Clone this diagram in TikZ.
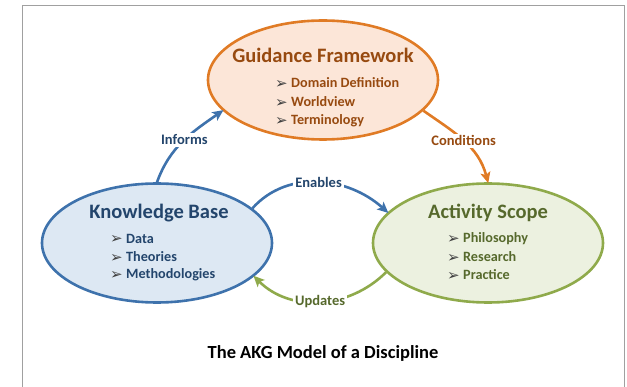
\documentclass[tikz,border=0pt]{standalone}
\usepackage{fontspec}
\setmainfont{Carlito}
\newfontfamily\dejavu{DejaVu Sans}
\usetikzlibrary{shapes.geometric,arrows.meta}
\definecolor{gfdraw}{HTML}{E07B25}
\definecolor{gffill}{HTML}{FCE6D8}
\definecolor{gftext}{HTML}{974A10}
\definecolor{kbdraw}{HTML}{3E72AC}
\definecolor{kbfill}{HTML}{DDE8F3}
\definecolor{kbtext}{HTML}{23456C}
\definecolor{asdraw}{HTML}{8FAA4B}
\definecolor{asfill}{HTML}{ECF1E0}
\definecolor{astext}{HTML}{56692C}
\definecolor{framegray}{HTML}{A0A0A0}
\newcommand{\bul}{\makebox[16pt][l]{\color{black!75}\dejavu\fontsize{15}{15}\selectfont\raisebox{-0.5pt}{➢}}}
\tikzset{
  blob/.style={ellipse, line width=2.6pt, minimum width=230pt, minimum height=119pt, inner sep=0pt},
  ttl/.style={font=\fontsize{20.5}{22}\selectfont\bfseries, inner sep=0pt},
  itm/.style={font=\fontsize{14.2}{15}\selectfont\bfseries, anchor=west, inner sep=0pt},
  lbl/.style={font=\fontsize{14.5}{15}\selectfont\bfseries, fill=white, inner sep=2pt},
  conn/.style={line width=2.6pt, -{Stealth[length=11pt,width=10pt,inset=2.5pt]}, shorten >=-1pt},
}
\begin{document}
\begin{tikzpicture}[x=1pt,y=1pt]
\useasboundingbox (0,0) rectangle (627,386);
\draw[framegray, line width=1pt] (22,-5) -- (22,380) -- (624,380) -- (624,-5);
% ellipses
\node[blob, draw=gfdraw, fill=gffill] (gf) at (323,306) {};
\node[blob, draw=kbdraw, fill=kbfill] (kb) at (157,143) {};
\node[blob, draw=asdraw, fill=asfill] (as) at (488,143) {};
% titles
\node[ttl, text=gftext] (gft) at (323,331) {Guidance Framework};
\node[ttl, text=kbtext] (kbt) at (159,173) {Knowledge Base};
\node[ttl, text=astext] (ast) at (488,173) {Activity Scope};
% items
\node[itm, text=gftext] (gf1) at (275,303) {\bul Domain Definition};
\node[itm, text=gftext] (gf2) at (275,284) {\bul Worldview};
\node[itm, text=gftext] (gf3) at (275,265) {\bul Terminology};
\node[itm, text=kbtext] (kb1) at (110,147) {\bul Data};
\node[itm, text=kbtext] (kb2) at (110,129) {\bul Theories};
\node[itm, text=kbtext] (kb3) at (110,111) {\bul Methodologies};
\node[itm, text=astext] (as1) at (447,147) {\bul Philosophy};
\node[itm, text=astext] (as2) at (447,129) {\bul Research};
\node[itm, text=astext] (as3) at (447,111) {\bul Practice};
% connectors
\draw[conn, kbdraw] (kb.90) to[out=70,in=215] node[lbl, text=kbtext, pos=0.52] {Informs} (gf.197);
\draw[conn, gfdraw] (gf.343) to[out=-35,in=105] node[lbl, text=gftext, pos=0.5] {Conditions} (as.90);
\draw[conn, kbdraw] (kb.20) to[out=48,in=138] node[lbl, text=kbtext, pos=0.5] {Enables} (as.163);
\draw[conn, asdraw] (as.196) to[out=225,in=-45] node[lbl, text=astext, pos=0.5] {Updates} (kb.341);
% caption
\node[font=\fontsize{18.5}{20}\selectfont\bfseries] (cap) at (323,33) {The AKG Model of a Discipline};
\end{tikzpicture}
\end{document}
